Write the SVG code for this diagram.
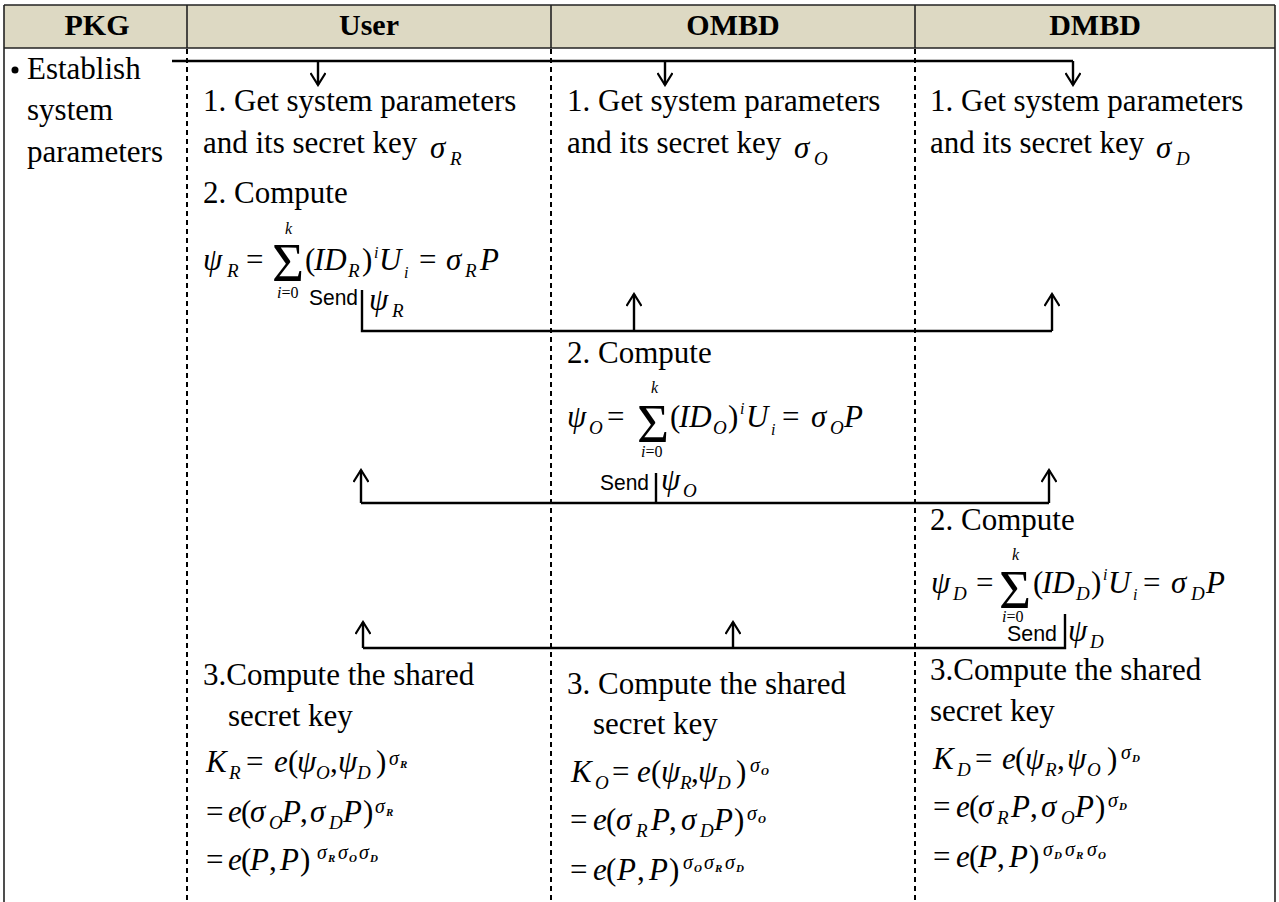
<svg xmlns="http://www.w3.org/2000/svg" width="1279" height="902" viewBox="0 0 1279 902">
<style>
.t{font-family:"Liberation Serif",serif;font-size:31px;fill:#000}
.h{font-family:"Liberation Serif",serif;font-size:30px;font-weight:bold;fill:#000;text-anchor:middle}
.m{font-family:"Liberation Serif",serif;font-size:31px;font-style:italic;fill:#000}
.u{font-family:"Liberation Serif",serif;font-size:31px;fill:#000}
.s{font-family:"Liberation Serif",serif;font-size:19px;font-style:italic;fill:#000}
.lim{font-family:"Liberation Serif",serif;font-size:16px;font-style:italic;fill:#000}
.sig{font-family:"Liberation Serif",serif;font-size:55px;fill:#000}
.p{font-family:"Liberation Serif",serif;font-size:20px;font-style:italic;fill:#000}
.ps{font-family:"Liberation Serif",serif;font-size:11px;font-style:italic;font-weight:bold;fill:#000}
.send{font-family:"Liberation Sans",sans-serif;font-size:22px;fill:#000}
.dot{stroke:#000;stroke-width:2;stroke-dasharray:5 4;fill:none}
.frame{stroke:#222;stroke-width:1.6;fill:none}
.c{stroke:#000;stroke-width:2.4;fill:none}
</style>
<defs>
<marker id="ah" viewBox="0 0 16 16" refX="14" refY="8" markerWidth="16" markerHeight="16" markerUnits="userSpaceOnUse" orient="auto">
<path d="M2,0.5 L14,8 L2,15.5" fill="none" stroke="#000" stroke-width="2.2"/>
</marker>
</defs>
<rect width="1279" height="902" fill="#fff"/>
<g id="table">
<rect x="4" y="5" width="1271" height="43" fill="#ddd9c3"/>
<line class="frame" x1="4" y1="5" x2="1275" y2="5"/>
<line class="frame" x1="4" y1="48" x2="1275" y2="48"/>
<line class="frame" x1="4" y1="5" x2="4" y2="902"/>
<line class="frame" x1="1275" y1="5" x2="1275" y2="902"/>
<line class="frame" x1="187" y1="5" x2="187" y2="48"/>
<line class="frame" x1="551" y1="5" x2="551" y2="48"/>
<line class="frame" x1="915" y1="5" x2="915" y2="48"/>
<line class="dot" x1="187" y1="49" x2="187" y2="902"/>
<line class="dot" x1="551" y1="49" x2="551" y2="902"/>
<line class="dot" x1="915" y1="49" x2="915" y2="902"/>
<text class="h" x="97" y="35">PKG</text>
<text class="h" x="369" y="35">User</text>
<text class="h" x="733" y="35">OMBD</text>
<text class="h" x="1095" y="35">DMBD</text>
</g>
<g id="pkg-establish">
<circle cx="15" cy="70" r="3.5" fill="#000"/>
<text class="t" x="27" y="79">Establish</text>
<text class="t" x="27" y="120">system</text>
<text class="t" x="27" y="162">parameters</text>
</g>
<g id="connectors">
<path class="c" d="M172,61 H1073"/>
<path class="c" d="M318,61 V85" marker-end="url(#ah)"/>
<path class="c" d="M665,61 V85" marker-end="url(#ah)"/>
<path class="c" d="M1073,61 V85" marker-end="url(#ah)"/>
<path class="c" d="M362,290 V331 H1052"/>
<path class="c" d="M634,331 V294" marker-end="url(#ah)"/>
<path class="c" d="M1052,331 V294" marker-end="url(#ah)"/>
<path class="c" d="M361,503 H1049"/>
<path class="c" d="M656,473 V503"/>
<path class="c" d="M361,503 V470" marker-end="url(#ah)"/>
<path class="c" d="M1049,503 V470" marker-end="url(#ah)"/>
<path class="c" d="M363,648 H1065 V614"/>
<path class="c" d="M363,648 V622" marker-end="url(#ah)"/>
<path class="c" d="M733,648 V622" marker-end="url(#ah)"/>
</g>
<g id="user-step1">
<text class="t" x="203" y="111">1. Get system parameters</text>
<text class="t" x="203" y="153">and its secret key</text>
<text class="m" x="430" y="158">σ</text><text class="s" x="450" y="165">R</text>
</g>
<g id="ombd-step1">
<text class="t" x="567" y="111">1. Get system parameters</text>
<text class="t" x="567" y="153">and its secret key</text>
<text class="m" x="794" y="158">σ</text><text class="s" x="814" y="165">O</text>
</g>
<g id="dmbd-step1">
<text class="t" x="930" y="111">1. Get system parameters</text>
<text class="t" x="930" y="153">and its secret key</text>
<text class="m" x="1156" y="158">σ</text><text class="s" x="1176" y="165">D</text>
</g>
<g id="user-step2">
<text class="t" x="203" y="203">2. Compute</text>
<text class="m" x="203" y="270">ψ</text><text class="s" x="227" y="277">R</text>
<text class="u" x="246" y="270">=</text>
<text class="sig" x="272" y="281">Σ</text>
<text class="lim" x="285" y="234">k</text>
<text class="lim" x="277" y="298">i<tspan font-style="normal">=0</tspan></text>
<text class="u" x="305" y="270">(</text><text class="m" x="314" y="270">ID</text><text class="s" x="348" y="277">R</text><text class="u" x="362" y="270">)</text>
<text class="lim" x="374" y="258">i</text>
<text class="m" x="379" y="270">U</text><text class="lim" x="404" y="278">i</text>
<text class="u" x="419" y="270">=</text>
<text class="m" x="446" y="270">σ</text><text class="s" x="465" y="277">R</text><text class="m" x="480" y="270">P</text>
<text class="send" x="309" y="305" textLength="49" lengthAdjust="spacingAndGlyphs">Send</text>
<text class="m" x="369" y="310">ψ</text><text class="s" x="392" y="317">R</text>
</g>
<g id="ombd-step2">
<text class="t" x="567" y="363">2. Compute</text>
<text class="m" x="567" y="427">ψ</text><text class="s" x="589" y="434">O</text>
<text class="u" x="607" y="427">=</text>
<text class="sig" x="637" y="442">Σ</text>
<text class="lim" x="651" y="393">k</text>
<text class="lim" x="641" y="457">i<tspan font-style="normal">=0</tspan></text>
<text class="u" x="670" y="427">(</text><text class="m" x="679" y="427">ID</text><text class="s" x="713" y="434">O</text><text class="u" x="728" y="427">)</text>
<text class="lim" x="740" y="414">i</text>
<text class="m" x="746" y="427">U</text><text class="lim" x="771" y="435">i</text>
<text class="u" x="782" y="427">=</text>
<text class="m" x="811" y="427">σ</text><text class="s" x="830" y="434">O</text><text class="m" x="844" y="427">P</text>
<text class="send" x="600" y="490" textLength="49" lengthAdjust="spacingAndGlyphs">Send</text>
<text class="m" x="661" y="490">ψ</text><text class="s" x="683" y="497">O</text>
</g>
<g id="dmbd-step2">
<text class="t" x="930" y="530">2. Compute</text>
<text class="m" x="931" y="593">ψ</text><text class="s" x="953" y="600">D</text>
<text class="u" x="976" y="593">=</text>
<text class="sig" x="999" y="608">Σ</text>
<text class="lim" x="1012" y="560">k</text>
<text class="lim" x="1002" y="622">i<tspan font-style="normal">=0</tspan></text>
<text class="u" x="1033" y="593">(</text><text class="m" x="1042" y="593">ID</text><text class="s" x="1076" y="600">D</text><text class="u" x="1091" y="593">)</text>
<text class="lim" x="1103" y="580">i</text>
<text class="m" x="1108" y="593">U</text><text class="lim" x="1133" y="600">i</text>
<text class="u" x="1143" y="593">=</text>
<text class="m" x="1171" y="593">σ</text><text class="s" x="1191" y="600">D</text><text class="m" x="1206" y="593">P</text>
<text class="send" x="1007" y="641" textLength="50" lengthAdjust="spacingAndGlyphs">Send</text>
<text class="m" x="1068" y="641">ψ</text><text class="s" x="1090" y="648">D</text>
</g>
<g id="user-step3">
<text class="t" x="203" y="685">3.Compute the shared</text>
<text class="t" x="228" y="726">secret key</text>
<text class="m" x="206" y="772">K</text><text class="s" x="229" y="779">R</text>
<text class="u" x="246" y="772">=</text>
<text class="m" x="274" y="772">e</text><text class="u" x="288" y="772">(</text>
<text class="m" x="297" y="772">ψ</text><text class="s" x="316" y="779">O</text><text class="u" x="330" y="772">,</text>
<text class="m" x="338" y="772">ψ</text><text class="s" x="357" y="779">D</text><text class="u" x="376" y="772">)</text>
<text class="p" x="389" y="765">σ</text><text class="ps" x="400" y="768">R</text>
<text class="u" x="206" y="822">=</text>
<text class="m" x="228" y="822">e</text><text class="u" x="241" y="822">(</text>
<text class="m" x="250" y="822">σ</text><text class="s" x="269" y="829">O</text><text class="m" x="282" y="822">P</text><text class="u" x="300" y="822">,</text>
<text class="m" x="310" y="822">σ</text><text class="s" x="329" y="829">D</text><text class="m" x="343" y="822">P</text><text class="u" x="363" y="822">)</text>
<text class="p" x="375" y="813">σ</text><text class="ps" x="386" y="816">R</text>
<text class="u" x="206" y="870">=</text>
<text class="m" x="228" y="870">e</text><text class="u" x="241" y="870">(</text>
<text class="m" x="250" y="870">P</text><text class="u" x="269" y="870">,</text>
<text class="m" x="280" y="870">P</text><text class="u" x="300" y="870">)</text>
<text class="p" x="317" y="859">σ</text><text class="ps" x="328" y="862">R</text>
<text class="p" x="338" y="859">σ</text><text class="ps" x="349" y="862">O</text>
<text class="p" x="359" y="859">σ</text><text class="ps" x="370" y="862">D</text>
</g>
<g id="ombd-step3">
<text class="t" x="567" y="694">3. Compute the shared</text>
<text class="t" x="593" y="734">secret key</text>
<text class="m" x="571" y="782">K</text><text class="s" x="595" y="789">O</text>
<text class="u" x="612" y="782">=</text>
<text class="m" x="637" y="782">e</text><text class="u" x="651" y="782">(</text>
<text class="m" x="661" y="782">ψ</text><text class="s" x="680" y="789">R</text><text class="u" x="691" y="782">,</text>
<text class="m" x="698" y="782">ψ</text><text class="s" x="717" y="789">D</text><text class="u" x="736" y="782">)</text>
<text class="p" x="750" y="772">σ</text><text class="ps" x="761" y="775">O</text>
<text class="u" x="570" y="830">=</text>
<text class="m" x="593" y="830">e</text><text class="u" x="606" y="830">(</text>
<text class="m" x="616" y="830">σ</text><text class="s" x="636" y="837">R</text><text class="m" x="651" y="830">P</text><text class="u" x="669" y="830">,</text>
<text class="m" x="681" y="830">σ</text><text class="s" x="700" y="837">D</text><text class="m" x="714" y="830">P</text><text class="u" x="734" y="830">)</text>
<text class="p" x="747" y="820">σ</text><text class="ps" x="758" y="823">O</text>
<text class="u" x="570" y="880">=</text>
<text class="m" x="593" y="880">e</text><text class="u" x="606" y="880">(</text>
<text class="m" x="617" y="880">P</text><text class="u" x="637" y="880">,</text>
<text class="m" x="649" y="880">P</text><text class="u" x="669" y="880">)</text>
<text class="p" x="683" y="869">σ</text><text class="ps" x="694" y="872">O</text>
<text class="p" x="704" y="869">σ</text><text class="ps" x="715" y="872">R</text>
<text class="p" x="725" y="869">σ</text><text class="ps" x="736" y="872">D</text>
</g>
<g id="dmbd-step3">
<text class="t" x="930" y="680">3.Compute the shared</text>
<text class="t" x="930" y="721">secret key</text>
<text class="m" x="933" y="769">K</text><text class="s" x="957" y="776">D</text>
<text class="u" x="975" y="769">=</text>
<text class="m" x="1002" y="769">e</text><text class="u" x="1015" y="769">(</text>
<text class="m" x="1025" y="769">ψ</text><text class="s" x="1045" y="776">R</text><text class="u" x="1057" y="769">,</text>
<text class="m" x="1067" y="769">ψ</text><text class="s" x="1087" y="776">O</text><text class="u" x="1107" y="769">)</text>
<text class="p" x="1121" y="759">σ</text><text class="ps" x="1132" y="762">D</text>
<text class="u" x="933" y="817">=</text>
<text class="m" x="956" y="817">e</text><text class="u" x="969" y="817">(</text>
<text class="m" x="978" y="817">σ</text><text class="s" x="997" y="824">R</text><text class="m" x="1011" y="817">P</text><text class="u" x="1030" y="817">,</text>
<text class="m" x="1041" y="817">σ</text><text class="s" x="1061" y="824">O</text><text class="m" x="1075" y="817">P</text><text class="u" x="1095" y="817">)</text>
<text class="p" x="1108" y="807">σ</text><text class="ps" x="1119" y="810">D</text>
<text class="u" x="933" y="867">=</text>
<text class="m" x="956" y="867">e</text><text class="u" x="969" y="867">(</text>
<text class="m" x="978" y="867">P</text><text class="u" x="997" y="867">,</text>
<text class="m" x="1009" y="867">P</text><text class="u" x="1029" y="867">)</text>
<text class="p" x="1043" y="856">σ</text><text class="ps" x="1054" y="859">D</text>
<text class="p" x="1065" y="856">σ</text><text class="ps" x="1076" y="859">R</text>
<text class="p" x="1087" y="856">σ</text><text class="ps" x="1098" y="859">O</text>
</g>
</svg>
